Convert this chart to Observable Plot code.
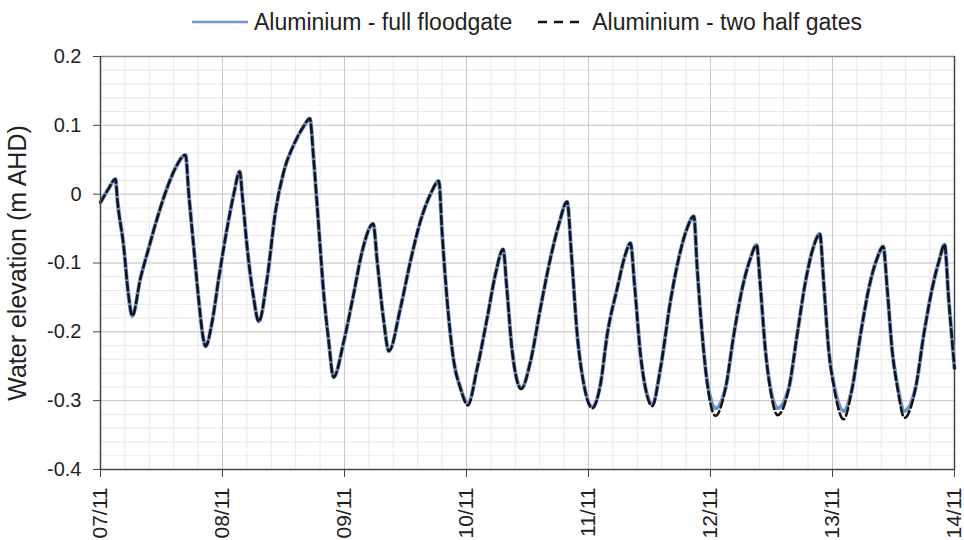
<!DOCTYPE html>
<html>
<head>
<meta charset="utf-8">
<script src="https://cdn.jsdelivr.net/npm/d3@7"></script>
<script src="https://cdn.jsdelivr.net/npm/@observablehq/plot@0.6"></script>
<style>
  html, body { margin: 0; padding: 0; background: #fff; }
  body { width: 964px; height: 540px; overflow: hidden; font-family: "Liberation Sans", Arial, sans-serif; }
  #legend { height: 40px; position: relative; }
  #legend .inner { position: absolute; left: 100px; width: 854px; top: 9px; display: flex; justify-content: center; align-items: center; font-size: 23px; color: #222; line-height: 26px; }
  #legend .item { display: flex; align-items: center; margin: 0 6px; }
  #legend svg { margin-right: 6px; }
  #chart svg { overflow: visible; }
</style>
</head>
<body>
<div id="legend"><div class="inner"></div></div>
<div id="chart"></div>
<script>
// Time in hours since 07/11 00:00
const hours = [
  0, 1.6, 2.95, 3.34, 4.52, 5.5, 6.24,
  7.87, 9.5, 11.15, 13.1, 14.75, 16.72,
  17.37, 18.35, 19.34, 20.2, 20.66, 21.97, 23.27, 24.92, 26.22, 27.4,
  27.87, 28.86, 30.03, 31.14, 32.79, 34.43, 36.06, 38.03, 40.0, 41.17,
  41.96, 42.94, 43.93, 44.9, 45.84, 47.86, 49.77, 51.48, 53.65,
  54.43, 55.73, 56.72, 59.02, 60.98, 62.95, 64.92, 66.55,
  67.22, 68.2, 69.5, 70.82, 72.26, 74.1, 76.07, 77.7, 79.22,
  79.87, 80.99, 82.76, 84.59, 86.56, 88.52, 90.16, 91.8,
  92.6, 93.78, 95.08, 96.73, 98.36, 99.68, 101.64, 103.28, 104.26,
  105.05, 106.23, 107.21, 108.53, 110.16, 112.13, 113.76, 115.42, 116.72,
  117.38, 118.37, 119.35, 120.98, 122.95, 124.59, 126.24, 127.87, 129.05,
  129.84, 130.82, 131.8, 133.18, 135.4, 137.05, 138.69, 140.2, 141.5,
  142.29, 143.27, 144.26, 146.17, 147.87, 149.51, 151.14, 152.79, 153.97,
  154.76, 155.75, 156.73, 158.16, 160.33, 161.96, 163.61, 165.11, 166.03,
  166.88, 168
];
const fullFloodgate = [
  -0.012, 0.008, 0.022, -0.01, -0.073, -0.146, -0.177,
  -0.122, -0.078, -0.035, 0.009, 0.038, 0.057,
  0.0, -0.078, -0.155, -0.209, -0.221, -0.185, -0.122, -0.049, 0.0, 0.033,
  0.0, -0.078, -0.146, -0.185, -0.122, -0.025, 0.033, 0.072, 0.099, 0.11,
  0.048, -0.049, -0.146, -0.214, -0.266, -0.214, -0.146, -0.083, -0.043,
  -0.097, -0.185, -0.228, -0.165, -0.097, -0.039, 0.0, 0.019,
  -0.058, -0.155, -0.243, -0.282, -0.304, -0.253, -0.18, -0.116, -0.08,
  -0.131, -0.228, -0.282, -0.243, -0.165, -0.093, -0.044, -0.011,
  -0.083, -0.204, -0.276, -0.309, -0.276, -0.204, -0.137, -0.087, -0.071,
  -0.131, -0.233, -0.282, -0.305, -0.253, -0.155, -0.093, -0.049, -0.032,
  -0.107, -0.204, -0.272, -0.311, -0.282, -0.204, -0.137, -0.093, -0.074,
  -0.137, -0.228, -0.282, -0.311, -0.282, -0.204, -0.127, -0.078, -0.058,
  -0.131, -0.228, -0.276, -0.315, -0.282, -0.204, -0.137, -0.093, -0.076,
  -0.137, -0.228, -0.276, -0.315, -0.282, -0.204, -0.137, -0.093, -0.073,
  -0.155, -0.253
];
const twoHalfGates = [
  -0.012, 0.008, 0.022, -0.01, -0.073, -0.146, -0.177,
  -0.122, -0.078, -0.035, 0.009, 0.038, 0.057,
  0.0, -0.078, -0.155, -0.209, -0.221, -0.185, -0.122, -0.049, 0.0, 0.033,
  0.0, -0.078, -0.146, -0.185, -0.122, -0.025, 0.033, 0.072, 0.099, 0.11,
  0.048, -0.049, -0.146, -0.214, -0.266, -0.214, -0.146, -0.083, -0.043,
  -0.097, -0.185, -0.228, -0.165, -0.097, -0.039, 0.0, 0.019,
  -0.058, -0.155, -0.243, -0.282, -0.307, -0.253, -0.18, -0.116, -0.08,
  -0.131, -0.228, -0.283, -0.243, -0.165, -0.093, -0.044, -0.011,
  -0.083, -0.204, -0.276, -0.311, -0.276, -0.204, -0.137, -0.087, -0.071,
  -0.131, -0.233, -0.282, -0.308, -0.253, -0.155, -0.093, -0.049, -0.032,
  -0.107, -0.204, -0.275, -0.322, -0.282, -0.204, -0.137, -0.093, -0.074,
  -0.137, -0.228, -0.285, -0.321, -0.282, -0.204, -0.127, -0.078, -0.058,
  -0.131, -0.228, -0.279, -0.327, -0.282, -0.204, -0.137, -0.093, -0.076,
  -0.137, -0.228, -0.279, -0.325, -0.282, -0.204, -0.137, -0.093, -0.073,
  -0.155, -0.253
];
const seriesNames = ["Aluminium - full floodgate", "Aluminium - two half gates"];
const xTickHours = [0, 24, 48, 72, 96, 120, 144, 168];
const xTickLabels = ["07/11", "08/11", "09/11", "10/11", "11/11", "12/11", "13/11", "14/11"];
const yTicks = [-0.4, -0.3, -0.2, -0.1, 0, 0.1, 0.2];
const yTickLabels = ["-0.4", "-0.3", "-0.2", "-0.1", "0", "0.1", "0.2"];
const yLabel = "Water elevation (m AHD)";

const full = hours.map((h, i) => ({h, v: fullFloodgate[i]}));
const half = hours.map((h, i) => ({h, v: twoHalfGates[i]}));

const blue = "#7094cf";
const dark = "#141414";

// Legend (HTML, above the SVG)
const inner = document.querySelector("#legend .inner");
[[seriesNames[0], blue, null, 2.5, 56], [seriesNames[1], dark, "9,7", 2.5, 48]].forEach(([name, color, dash, w, len], k) => {
  const item = document.createElement("div");
  item.className = "item";
  if (k === 1) item.style.marginLeft = "20px";
  item.innerHTML = `<svg width="${len}" height="10"><line x1="0" x2="${len}" y1="5" y2="5" stroke="${color}" stroke-width="${w}" ${dash ? `stroke-dasharray="${dash}"` : ""}/></svg><span>${name}</span>`;
  inner.appendChild(item);
});

const minorY = d3.range(-0.4, 0.2001, 0.02);
const minorX = d3.range(0, 168.01, 4.8);

const chart = Plot.plot({
  width: 964,
  height: 500,
  marginLeft: 100,
  marginRight: 10,
  marginTop: 16,
  marginBottom: 71,
  style: {fontFamily: "'Liberation Sans', Arial, sans-serif", fontSize: "20px", color: "#222", background: "#fff"},
  x: {domain: [0, 168]},
  y: {domain: [-0.4, 0.2]},
  marks: [
    Plot.gridY(minorY, {stroke: "#e8e8e8", strokeOpacity: 1, strokeWidth: 1}),
    Plot.gridX(minorX, {stroke: "#e8e8e8", strokeOpacity: 1, strokeWidth: 1}),
    Plot.gridY(yTicks, {stroke: "#c8c8c8", strokeOpacity: 1, strokeWidth: 1}),
    Plot.gridX(xTickHours, {stroke: "#c8c8c8", strokeOpacity: 1, strokeWidth: 1}),
    Plot.ruleY([0.2], {stroke: "#8a8a8a", strokeWidth: 1.5}),
    Plot.ruleX([168], {stroke: "#444", strokeWidth: 1.5}),
    Plot.axisY({
      ticks: yTicks,
      tickFormat: (d) => yTickLabels[yTicks.indexOf(d)],
      tickSize: 7,
      tickPadding: 12,
      stroke: "#444",
      fontSize: 20,
      label: null
    }),
    Plot.axisY({
      ticks: [],
      tickSize: 0,
      label: yLabel,
      labelAnchor: "center",
      labelArrow: false,
      labelOffset: 92,
      fontSize: 25
    }),
    Plot.axisX({
      ticks: xTickHours,
      tickFormat: d => xTickLabels[xTickHours.indexOf(d)],
      tickSize: 8,
      tickPadding: 10,
      tickRotate: -90,
      stroke: "#444",
      fontSize: 21,
      label: null
    }),
    Plot.line(full, {x: "h", y: "v", stroke: blue, strokeWidth: 4, curve: "monotone-x"}),
    Plot.line(half, {x: "h", y: "v", stroke: dark, strokeWidth: 2.6, strokeDasharray: "8,4", curve: "monotone-x"}),
    Plot.ruleX([0], {stroke: "#444", strokeWidth: 1.5}),
    Plot.ruleY([-0.4], {stroke: "#444", strokeWidth: 1.5})
  ]
});
document.getElementById("chart").appendChild(chart);
</script>
</body>
</html>
